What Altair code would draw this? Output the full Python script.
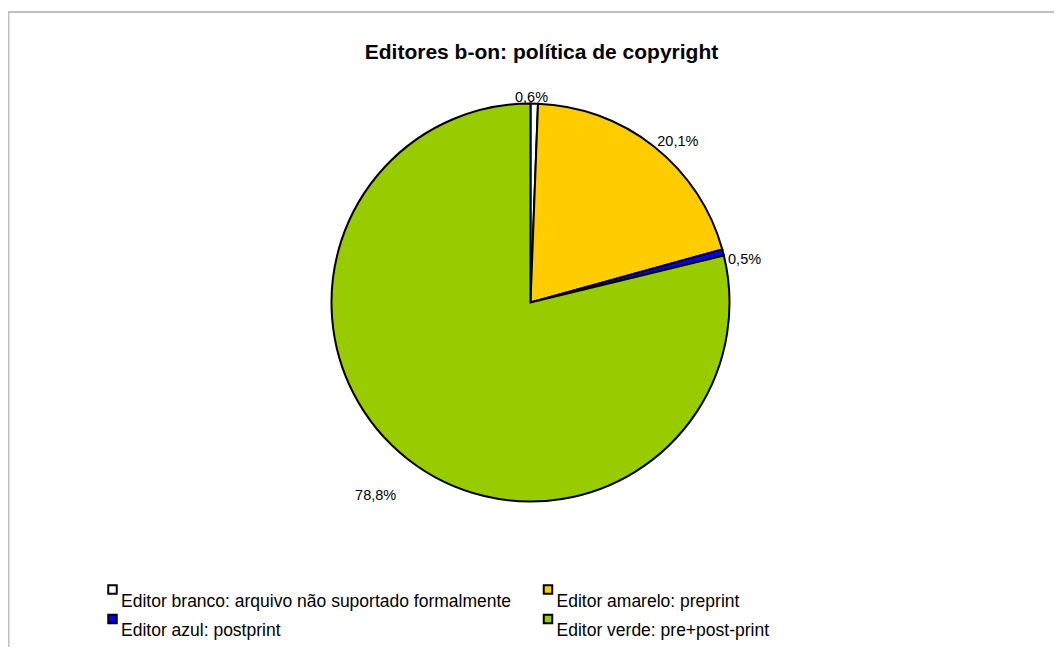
import altair as alt
import pandas as pd

title_text = "Editores b-on: política de copyright"
categories = [
    "Editor branco: arquivo não suportado formalmente",
    "Editor amarelo: preprint",
    "Editor azul: postprint",
    "Editor verde: pre+post-print",
]
values = [0.6, 20.1, 0.5, 78.8]
colors = ["#FFFFFF", "#FFCC00", "#0000FF", "#99CC00"]

W, H = 1046, 639
CX, CY = 522.5, 294.5
FONT = "Liberation Sans"

df = pd.DataFrame({
    "cat": categories,
    "value": values,
    "idx": list(range(len(categories))),
    "label": [f"{v:.1f}".replace(".", ",") + "%" for v in values],
    "col": [i % 2 for i in range(len(categories))],
    "row": [i // 2 for i in range(len(categories))],
})

color_scale = alt.Scale(domain=categories, range=colors)
base = alt.Chart(df)

pie = base.mark_arc(outerRadius=199, stroke="black", strokeWidth=2).encode(
    theta=alt.Theta("value:Q", stack=True),
    order=alt.Order("idx:Q"),
    color=alt.Color("cat:N", scale=color_scale, legend=None),
    x=alt.value(CX),
    y=alt.value(CY),
)

offsets = [(-3, 10), (14, 8), (6, 12), (-22, 24)]
label_layers = []
for i, (dx, dy) in enumerate(offsets):
    label_layers.append(
        base.mark_text(font=FONT, fontSize=14.5, color="black", align="center",
                       baseline="middle", dx=dx, dy=dy).encode(
            theta=alt.Theta("value:Q", stack=True),
            order=alt.Order("idx:Q"),
            radius=alt.value(215),
            x=alt.value(CX),
            y=alt.value(CY),
            text=alt.condition(f"datum.idx == {i}", alt.Text("label:N"), alt.value("")),
        )
    )

lx = alt.X("col:Q", scale=alt.Scale(domain=[0, 1], range=[104.5, 540]), axis=None)
ly = alt.Y("row:Q", scale=alt.Scale(domain=[0, 1], range=[581.5, 611]), axis=None)

leg_sym = base.mark_square(size=72, stroke="black", strokeWidth=2, opacity=1).encode(
    x=lx, y=ly,
    color=alt.Color("cat:N", scale=color_scale, legend=None),
)
leg_txt = base.mark_text(font=FONT, fontSize=17.5, color="black", align="left",
                         baseline="alphabetic", dx=8.5, dy=17).encode(
    x=lx, y=ly, text="cat:N",
)

title = alt.Chart(pd.DataFrame({"t": [title_text]})).mark_text(
    font=FONT, fontSize=21, fontWeight="bold", color="black",
    align="center", baseline="alphabetic",
).encode(x=alt.value(533.5), y=alt.value(51), text="t:N")

border = alt.Chart(pd.DataFrame({"a": [0]})).mark_rect(
    fillOpacity=0, stroke="#C0C0C0", strokeWidth=2,
).encode(x=alt.value(0.5), y=alt.value(4), x2=alt.value(W + 60), y2=alt.value(H + 60))

chart = alt.layer(border, pie, *label_layers, leg_sym, leg_txt, title).properties(
    width=W, height=H, padding=0,
    autosize=alt.AutoSizeParams(type="none"),
).configure_view(stroke=None)

chart.save("out.html", embed_options={"renderer": "svg", "actions": False})
